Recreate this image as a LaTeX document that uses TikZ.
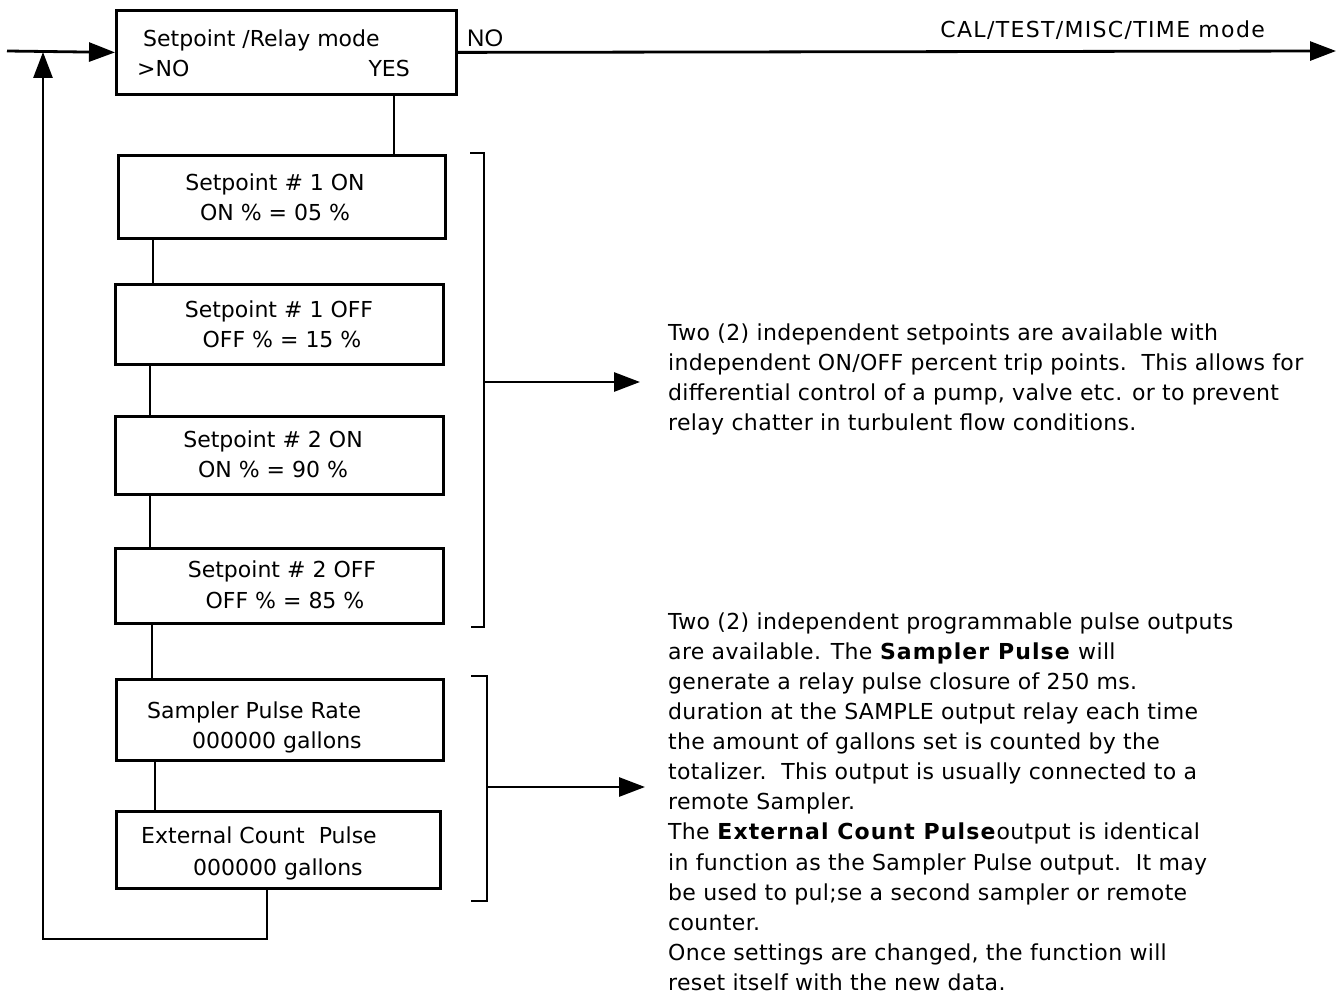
\documentclass[tikz,border=0pt]{standalone}
\usepackage{fontspec}
\setmainfont{DejaVu Sans}
\newfontfamily\arialfont{Liberation Sans}
\newfontfamily\parafont[LetterSpace=1.5]{DejaVu Sans}
\usetikzlibrary{arrows.meta}
\newcommand{\bfspaced}[1]{\textbf{\addfontfeature{LetterSpace=5}#1}}
\begin{document}
\begin{tikzpicture}[x=1pt,y=-1pt,
  box/.style={draw, line width=2.8pt, anchor=north west, inner sep=0pt},
  ln/.style={line width=2.8pt},
  arr/.style={line width=2.8pt, -{Triangle[length=26pt,width=19pt]}},
  txt/.style={inner sep=0pt, font=\fontsize{22}{30}\selectfont},
  para/.style={inner sep=0pt, anchor=north west, align=left, font=\parafont\fontsize{22}{30.1}\selectfont}]
\useasboundingbox (0,0) rectangle (1337,1000);

% boxes
\node[box, minimum width=340pt, minimum height=84pt] (bt) at (115,9) {};
\node[box, minimum width=327pt, minimum height=83pt] (b1) at (117,154) {};
\node[box, minimum width=328pt, minimum height=80pt] (b2) at (114,283) {};
\node[box, minimum width=328pt, minimum height=78pt] (b3) at (114,415) {};
\node[box, minimum width=328pt, minimum height=75pt] (b4) at (114,547) {};
\node[box, minimum width=327pt, minimum height=81pt] (b5) at (115,678) {};
\node[box, minimum width=324pt, minimum height=77pt] (b6) at (115,810) {};

% box texts
\node[txt, anchor=base west] (t0a) at (143,47) {Setpoint /Relay mode};
\node[txt, anchor=base west] (t0b) at (137,77) {>NO};
\node[txt, anchor=base east] (t0c) at (410,77) {YES};
\node[txt, anchor=base] (t1a) at (275,191) {Setpoint \# 1 ON};
\node[txt, anchor=base] (t1b) at (275,221) {ON \% = 05 \%};
\node[txt, anchor=base] (t2a) at (279,317) {Setpoint \# 1 OFF};
\node[txt, anchor=base] (t2b) at (282,347) {OFF \% = 15 \%};
\node[txt, anchor=base] (t3a) at (273,447) {Setpoint \# 2 ON};
\node[txt, anchor=base] (t3b) at (273,477) {ON \% = 90 \%};
\node[txt, anchor=base] (t4a) at (282,577) {Setpoint \# 2 OFF};
\node[txt, anchor=base] (t4b) at (285,608) {OFF \% = 85 \%};
\node[txt, anchor=base west] (t5a) at (147,718) {Sampler Pulse Rate};
\node[txt, anchor=base west] (t5b) at (192,748) {000000 gallons};
\node[txt, anchor=base west] (t6a) at (141,843) {External Count\ \ Pulse};
\node[txt, anchor=base west] (t6b) at (193,875) {000000 gallons};

% labels on the top line
\node[inner sep=0pt, anchor=base west, font=\arialfont\fontsize{24}{28}\selectfont] (no) at (467,47) {NO};
\node[txt, anchor=base east] (cal) at (1265,38) {\addfontfeature{LetterSpace=6}CAL/TEST/MISC/TIME mode};

% connectors between boxes
\draw[ln] (bt.south -| 394,0) -- (b1.north -| 394,0);
\draw[ln] (b1.south -| 153,0) -- (b2.north -| 153,0);
\draw[ln] (b2.south -| 150,0) -- (b3.north -| 150,0);
\draw[ln] (b3.south -| 150,0) -- (b4.north -| 150,0);
\draw[ln] (b4.south -| 152,0) -- (b5.north -| 152,0);
\draw[ln] (b5.south -| 155,0) -- (b6.north -| 155,0);

% incoming, outgoing and loop
\coordinate (in) at (7,51);
\coordinate (out) at (1336,51);
\draw[arr] (in) -- (bt.west);
\draw[arr] (bt.east) -- (out);
\draw[arr] (b6.south -| 267,0) -- (267,939) -| (43,52);

% brackets
\draw[ln] (470,153) -- (484,153) -- (484,627) -- (471,627);
\draw[ln] (471,676) -- (487,676) -- (487,901) -- (471,901);
\coordinate (k1) at (484,382);
\coordinate (a1) at (640,382);
\coordinate (k2) at (487,787);
\coordinate (a2) at (645,787);
\draw[arr] (k1) -- (a1);
\draw[arr] (k2) -- (a2);

% paragraphs
\node[para] (p1) at (668,323.3) {Two (2) independent setpoints are available with\\
independent ON/OFF percent trip points.\ \ This allows for\\
differential control of a pump, valve etc. or to prevent\\
relay chatter in turbulent flow conditions.};
\node[para] (p2) at (668,612.3) {Two (2) independent programmable pulse outputs\\
are available. The \bfspaced{Sampler Pulse} will\\
generate a relay pulse closure of 250 ms.\\
duration at the SAMPLE output relay each time\\
the amount of gallons set is counted by the\\
totalizer.\ \ This output is usually connected to a\\
remote Sampler.\\
The \bfspaced{External Count Pulse}output is identical\\
in function as the Sampler Pulse output.\ \ It may\\
be used to pul;se a second sampler or remote\\
counter.\\
Once settings are changed, the function will\\
reset itself with the new data.};
\end{tikzpicture}
\end{document}
